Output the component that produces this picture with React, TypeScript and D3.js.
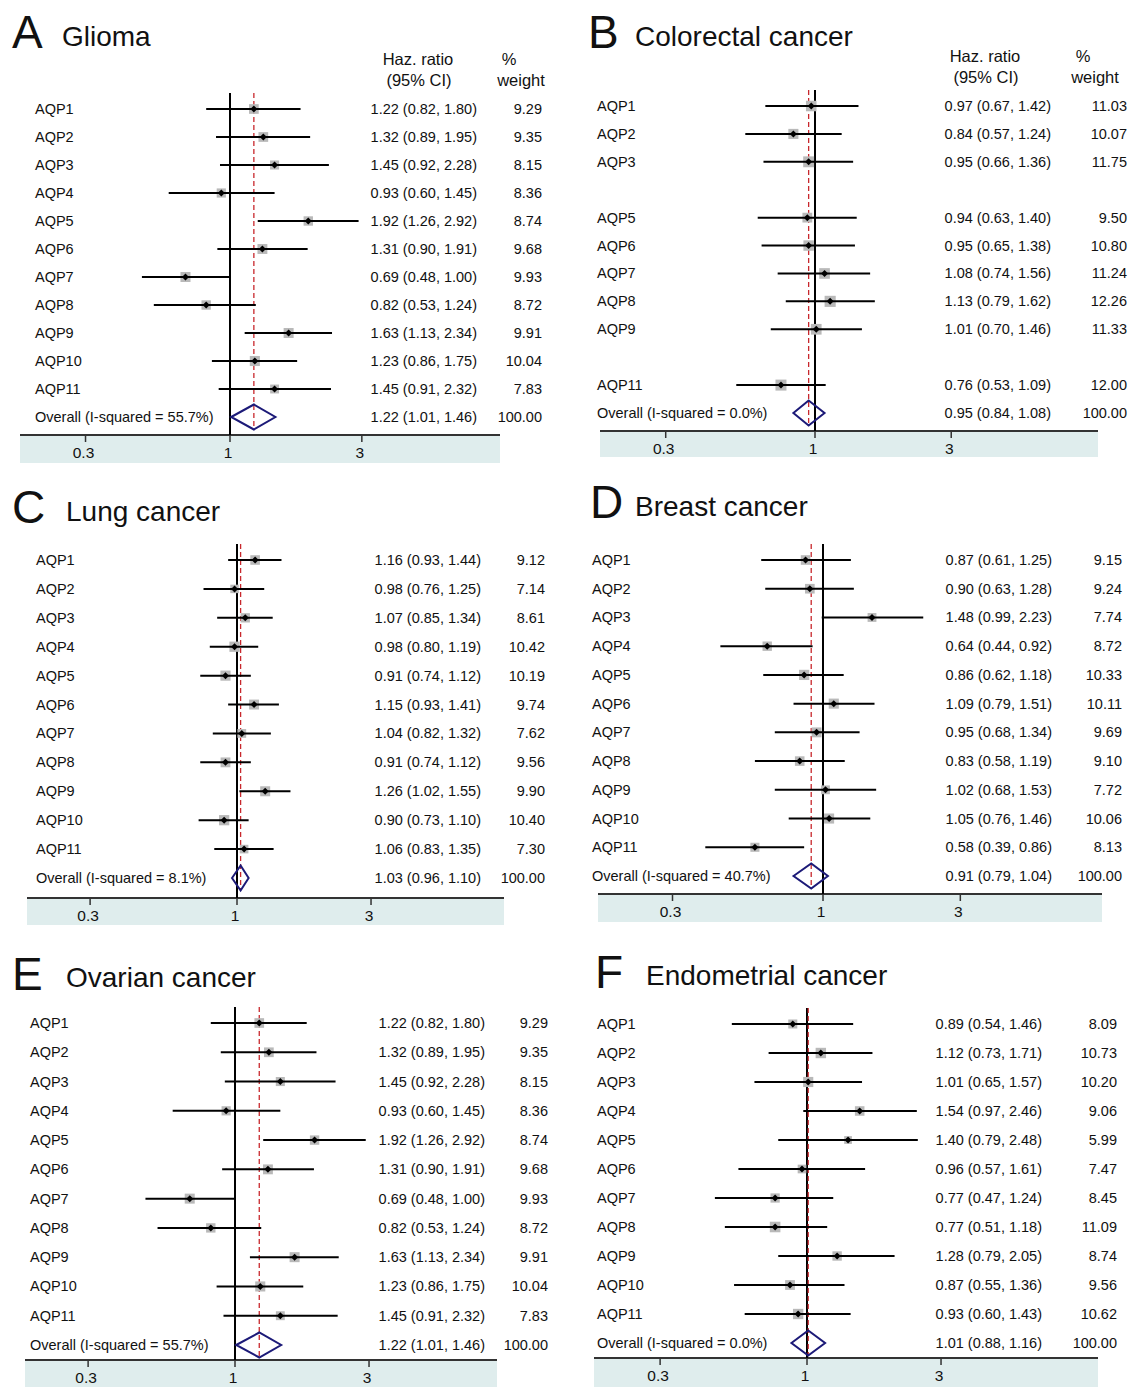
import React from 'react';
import * as d3 from 'd3';

const genes = ['AQP1', 'AQP2', 'AQP3', 'AQP4', 'AQP5', 'AQP6', 'AQP7', 'AQP8', 'AQP9', 'AQP10', 'AQP11'];

// [HR, lower 95% CI, upper 95% CI, % weight]; null = gene not in the study
const glioma = [
  [1.22, 0.82, 1.80, 9.29], [1.32, 0.89, 1.95, 9.35], [1.45, 0.92, 2.28, 8.15],
  [0.93, 0.60, 1.45, 8.36], [1.92, 1.26, 2.92, 8.74], [1.31, 0.90, 1.91, 9.68],
  [0.69, 0.48, 1.00, 9.93], [0.82, 0.53, 1.24, 8.72], [1.63, 1.13, 2.34, 9.91],
  [1.23, 0.86, 1.75, 10.04], [1.45, 0.91, 2.32, 7.83],
];
const gliomaOverall = [1.22, 1.01, 1.46];

const colorectal = [
  [0.97, 0.67, 1.42, 11.03], [0.84, 0.57, 1.24, 10.07], [0.95, 0.66, 1.36, 11.75],
  null, [0.94, 0.63, 1.40, 9.50], [0.95, 0.65, 1.38, 10.80],
  [1.08, 0.74, 1.56, 11.24], [1.13, 0.79, 1.62, 12.26], [1.01, 0.70, 1.46, 11.33],
  null, [0.76, 0.53, 1.09, 12.00],
];
const colorectalOverall = [0.95, 0.84, 1.08];

const lung = [
  [1.16, 0.93, 1.44, 9.12], [0.98, 0.76, 1.25, 7.14], [1.07, 0.85, 1.34, 8.61],
  [0.98, 0.80, 1.19, 10.42], [0.91, 0.74, 1.12, 10.19], [1.15, 0.93, 1.41, 9.74],
  [1.04, 0.82, 1.32, 7.62], [0.91, 0.74, 1.12, 9.56], [1.26, 1.02, 1.55, 9.90],
  [0.90, 0.73, 1.10, 10.40], [1.06, 0.83, 1.35, 7.30],
];
const lungOverall = [1.03, 0.96, 1.10];

const breast = [
  [0.87, 0.61, 1.25, 9.15], [0.90, 0.63, 1.28, 9.24], [1.48, 0.99, 2.23, 7.74],
  [0.64, 0.44, 0.92, 8.72], [0.86, 0.62, 1.18, 10.33], [1.09, 0.79, 1.51, 10.11],
  [0.95, 0.68, 1.34, 9.69], [0.83, 0.58, 1.19, 9.10], [1.02, 0.68, 1.53, 7.72],
  [1.05, 0.76, 1.46, 10.06], [0.58, 0.39, 0.86, 8.13],
];
const breastOverall = [0.91, 0.79, 1.04];

const ovarian = [
  [1.22, 0.82, 1.80, 9.29], [1.32, 0.89, 1.95, 9.35], [1.45, 0.92, 2.28, 8.15],
  [0.93, 0.60, 1.45, 8.36], [1.92, 1.26, 2.92, 8.74], [1.31, 0.90, 1.91, 9.68],
  [0.69, 0.48, 1.00, 9.93], [0.82, 0.53, 1.24, 8.72], [1.63, 1.13, 2.34, 9.91],
  [1.23, 0.86, 1.75, 10.04], [1.45, 0.91, 2.32, 7.83],
];
const ovarianOverall = [1.22, 1.01, 1.46];

const endometrial = [
  [0.89, 0.54, 1.46, 8.09], [1.12, 0.73, 1.71, 10.73], [1.01, 0.65, 1.57, 10.20],
  [1.54, 0.97, 2.46, 9.06], [1.40, 0.79, 2.48, 5.99], [0.96, 0.57, 1.61, 7.47],
  [0.77, 0.47, 1.24, 8.45], [0.77, 0.51, 1.18, 11.09], [1.28, 0.79, 2.05, 8.74],
  [0.87, 0.55, 1.36, 9.56], [0.93, 0.60, 1.43, 10.62],
];
const endometrialOverall = [1.01, 0.88, 1.16];

const ticks = [0.3, 1, 3];
const tickLabels = ['0.3', '1', '3'];

const panels = [
  { letter: 'A', title: 'Glioma', rows: glioma, overall: gliomaOverall, i2: '55.7',
    lx: 12, ly: 48, tx: 62, ty: 46, header: true, hx: 418, px: 509, wx: 521, hy: 65,
    labelX: 35, y0: 109, y11: 417, x1: 230, b: 120, axisY: 435, band: [20, 500], bandB: 463,
    hrR: 477, wR: 542 },
  { letter: 'B', title: 'Colorectal cancer', rows: colorectal, overall: colorectalOverall, i2: '0.0',
    lx: 588, ly: 48, tx: 635, ty: 46, header: true, hx: 985, px: 1083, wx: 1095, hy: 62,
    labelX: 597, y0: 106, y11: 413, x1: 815, b: 124, axisY: 431, band: [600, 1098], bandB: 457,
    hrR: 1051, wR: 1127 },
  { letter: 'C', title: 'Lung cancer', rows: lung, overall: lungOverall, i2: '8.1',
    lx: 12, ly: 523, tx: 66, ty: 521, header: false,
    labelX: 36, y0: 560, y11: 878, x1: 237, b: 122, axisY: 898, band: [27, 504], bandB: 925,
    hrR: 481, wR: 545 },
  { letter: 'D', title: 'Breast cancer', rows: breast, overall: breastOverall, i2: '40.7',
    lx: 590, ly: 518, tx: 635, ty: 516, header: false,
    labelX: 592, y0: 560, y11: 876, x1: 823, b: 125, axisY: 894, band: [598, 1102], bandB: 922,
    hrR: 1052, wR: 1122 },
  { letter: 'E', title: 'Ovarian cancer', rows: ovarian, overall: ovarianOverall, i2: '55.7',
    lx: 12, ly: 990, tx: 66, ty: 987, header: false,
    labelX: 30, y0: 1023, y11: 1345, x1: 235, b: 122, axisY: 1360, band: [25, 497], bandB: 1387,
    hrR: 485, wR: 548 },
  { letter: 'F', title: 'Endometrial cancer', rows: endometrial, overall: endometrialOverall, i2: '0.0',
    lx: 595, ly: 988, tx: 646, ty: 985, header: false,
    labelX: 597, y0: 1024, y11: 1343, x1: 807, b: 122, axisY: 1358, band: [594, 1098], bandB: 1387,
    hrR: 1042, wR: 1117 },
];

const FONT = '"Liberation Sans", Arial, sans-serif';
const fmt = d3.format('.2f');
const boxSize = d3.scaleSqrt().domain([0, 12]).range([0, 11]);

function Forest({ p }: { p: any }) {
  const x = d3.scaleLog().domain([0.3, 3])
    .range([p.x1 - p.b * Math.log(1 / 0.3), p.x1 + p.b * Math.log(3)]);
  const y = d3.scaleLinear().domain([0, 11]).range([p.y0, p.y11]);
  const [ohr, olo, ohi] = p.overall;
  const yo = y(11);
  const top = p.y0 - 16;
  const dh = 12.5;

  return (
    <g fontFamily={FONT} fill="#111">
      <text x={p.lx} y={p.ly} fontSize={46}>{p.letter}</text>
      <text x={p.tx} y={p.ty} fontSize={28}>{p.title}</text>
      {p.header && (
        <g fontSize={16.5}>
          <text x={p.hx} y={p.hy} textAnchor="middle">Haz. ratio</text>
          <text x={p.hx + 1} y={p.hy + 21} textAnchor="middle">(95% CI)</text>
          <text x={p.px} y={p.hy} textAnchor="middle">%</text>
          <text x={p.wx} y={p.hy + 21} textAnchor="middle">weight</text>
        </g>
      )}

      <rect x={p.band[0]} y={p.axisY} width={p.band[1] - p.band[0]} height={p.bandB - p.axisY} fill="#dfeded" />
      <line x1={p.band[0]} x2={p.band[1]} y1={p.axisY} y2={p.axisY} stroke="#333" strokeWidth={1.8} />
      {ticks.map((t, i) => (
        <g key={t}>
          <line x1={x(t)} x2={x(t)} y1={p.axisY} y2={p.axisY + 7} stroke="#333" strokeWidth={1.5} />
          <text x={x(t) - 2} y={p.axisY + 23} fontSize={15.5} textAnchor="middle">{tickLabels[i]}</text>
        </g>
      ))}

      <line x1={x(1)} x2={x(1)} y1={top} y2={p.axisY} stroke="#000" strokeWidth={2} />
      <line x1={x(ohr)} x2={x(ohr)} y1={top} y2={yo + dh} stroke="#c8282d" strokeWidth={1.3} strokeDasharray="5 3" />

      {p.rows.map((r: number[] | null, i: number) => {
        if (!r) return null;
        const [hr, lo, hi, w] = r;
        const yy = y(i);
        const s = boxSize(w);
        return (
          <g key={i}>
            <text x={p.labelX} y={yy + 5} fontSize={14.5}>{genes[i]}</text>
            <rect x={x(hr) - s / 2} y={yy - s / 2} width={s} height={s} fill="#b9b9b9" />
            <line x1={x(lo)} x2={x(hi)} y1={yy} y2={yy} stroke="#000" strokeWidth={2} />
            <path d={`M${x(hr) - 3.5},${yy}L${x(hr)},${yy - 3.5}L${x(hr) + 3.5},${yy}L${x(hr)},${yy + 3.5}Z`} fill="#000" />
            <text x={p.hrR} y={yy + 5} fontSize={14.5} textAnchor="end">{`${fmt(hr)} (${fmt(lo)}, ${fmt(hi)})`}</text>
            <text x={p.wR} y={yy + 5} fontSize={14.5} textAnchor="end">{fmt(w)}</text>
          </g>
        );
      })}

      <text x={p.labelX} y={yo + 5} fontSize={14.5}>{`Overall (I-squared = ${p.i2}%)`}</text>
      <path
        d={`M${x(olo)},${yo}L${x(ohr)},${yo - dh}L${x(ohi)},${yo}L${x(ohr)},${yo + dh}Z`}
        fill="none" stroke="#1c1a78" strokeWidth={2}
      />
      <text x={p.hrR} y={yo + 5} fontSize={14.5} textAnchor="end">{`${fmt(ohr)} (${fmt(olo)}, ${fmt(ohi)})`}</text>
      <text x={p.wR} y={yo + 5} fontSize={14.5} textAnchor="end">{fmt(100)}</text>
    </g>
  );
}

export default function App() {
  return (
    <svg width={1133} height={1387} style={{ position: 'absolute', left: 0, top: 0, background: '#fff' }}>
      <rect width={1133} height={1387} fill="#fff" />
      {panels.map(p => <Forest key={p.letter} p={p} />)}
    </svg>
  );
}
